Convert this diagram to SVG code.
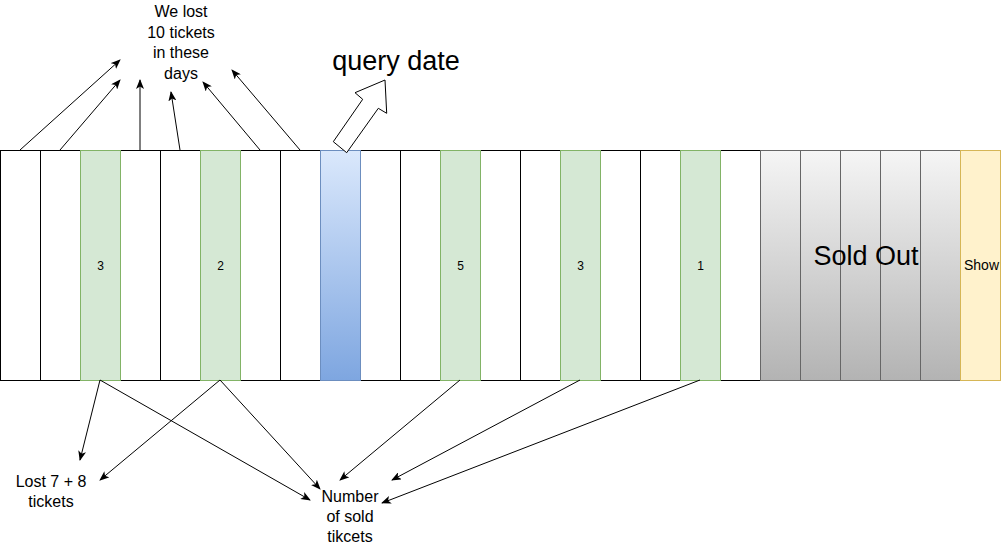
<svg xmlns="http://www.w3.org/2000/svg" width="1001" height="545" viewBox="0 0 1001 545">
<style>
.w{fill:#ffffff;stroke:#000000;stroke-width:1}
.g{fill:#d5e8d4;stroke:#82b366;stroke-width:1}
.b{fill:url(#gb);stroke:#6c8ebf;stroke-width:1}
.s{fill:url(#gs);stroke:#666666;stroke-width:1}
.y{fill:#fff2cc;stroke:#d6b656;stroke-width:1}
text{font-family:"Liberation Sans",Arial,sans-serif;fill:#000000;text-anchor:middle}
.n{font-size:12px}
.l{font-size:16px}
.big{font-size:27px}
.c line{stroke:#000000;stroke-width:1;marker-end:url(#ah)}
</style>
<defs>
<linearGradient id="gb" x1="0" y1="0" x2="0" y2="1"><stop offset="0" stop-color="#dae8fc"/><stop offset="1" stop-color="#7ea6e0"/></linearGradient>
<linearGradient id="gs" x1="0" y1="0" x2="0" y2="1"><stop offset="0" stop-color="#f5f5f5"/><stop offset="1" stop-color="#b3b3b3"/></linearGradient>
<marker id="ah" markerWidth="10" markerHeight="8" refX="9" refY="4" orient="auto" markerUnits="userSpaceOnUse"><path d="M0,0 L10,4 L0,8 L2.5,4 Z" fill="#000000"/></marker>
</defs>
<rect width="1001" height="545" fill="#ffffff"/>
<g id="days-white">
<rect class="w" x="0.5" y="150.5" width="40" height="230"/>
<rect class="w" x="40.5" y="150.5" width="40" height="230"/>
<rect class="w" x="120.5" y="150.5" width="40" height="230"/>
<rect class="w" x="160.5" y="150.5" width="40" height="230"/>
<rect class="w" x="240.5" y="150.5" width="40" height="230"/>
<rect class="w" x="280.5" y="150.5" width="40" height="230"/>
<rect class="w" x="360.5" y="150.5" width="40" height="230"/>
<rect class="w" x="400.5" y="150.5" width="40" height="230"/>
<rect class="w" x="480.5" y="150.5" width="40" height="230"/>
<rect class="w" x="520.5" y="150.5" width="40" height="230"/>
<rect class="w" x="600.5" y="150.5" width="40" height="230"/>
<rect class="w" x="640.5" y="150.5" width="40" height="230"/>
<rect class="w" x="720.5" y="150.5" width="40" height="230"/>
</g>
<g id="day-3a"><rect class="g" x="80.5" y="150.5" width="40" height="230"/><text class="n" x="100.5" y="270">3</text></g>
<g id="day-2"><rect class="g" x="200.5" y="150.5" width="40" height="230"/><text class="n" x="220.5" y="270">2</text></g>
<g id="query-day"><rect class="b" x="320.5" y="150.5" width="40" height="230"/></g>
<g id="day-5"><rect class="g" x="440.5" y="150.5" width="40" height="230"/><text class="n" x="460.5" y="270">5</text></g>
<g id="day-3b"><rect class="g" x="560.5" y="150.5" width="40" height="230"/><text class="n" x="580.5" y="270">3</text></g>
<g id="day-1"><rect class="g" x="680.5" y="150.5" width="40" height="230"/><text class="n" x="700.5" y="270">1</text></g>
<g id="sold-out">
<rect class="s" x="760.5" y="150.5" width="40" height="230"/>
<rect class="s" x="800.5" y="150.5" width="40" height="230"/>
<rect class="s" x="840.5" y="150.5" width="40" height="230"/>
<rect class="s" x="880.5" y="150.5" width="40" height="230"/>
<rect class="s" x="920.5" y="150.5" width="40" height="230"/>
<text class="big" x="866" y="265">Sold Out</text>
</g>
<g id="show"><rect class="y" x="960.5" y="150.5" width="40" height="230"/><text x="981.5" y="270" style="font-size:14px">Show</text></g>
<g id="query-arrow"><polygon points="333.3,141.7 362.7,99.3 355,92.7 385,80 386.7,113.3 378.3,108.3 346.7,152.7" fill="#ffffff" stroke="#000000" stroke-width="1"/></g>
<g id="label-query"><text class="big" x="396" y="70">query date</text></g>
<g id="label-lost10"><text class="l" x="181" y="17">We lost</text><text class="l" x="181" y="38">10 tickets</text><text class="l" x="181" y="58">in these</text><text class="l" x="181" y="79">days</text></g>
<g id="label-lost78"><text class="l" x="51" y="487">Lost 7 + 8</text><text class="l" x="51" y="507">tickets</text></g>
<g id="label-sold"><text class="l" x="350" y="502">Number</text><text class="l" x="350" y="522">of sold</text><text class="l" x="350" y="542">tikcets</text></g>
<g id="connectors" class="c">
<line x1="20" y1="150" x2="120" y2="60"/>
<line x1="60" y1="150" x2="120" y2="80"/>
<line x1="140" y1="150" x2="140" y2="80"/>
<line x1="180" y1="150" x2="171" y2="92"/>
<line x1="260" y1="150" x2="203" y2="82"/>
<line x1="300" y1="150" x2="232" y2="70"/>
<line x1="100" y1="380" x2="80" y2="460"/>
<line x1="100" y1="380" x2="310" y2="500"/>
<line x1="220" y1="380" x2="100" y2="480"/>
<line x1="220" y1="380" x2="320" y2="489"/>
<line x1="460" y1="380" x2="340" y2="480"/>
<line x1="580" y1="380" x2="392" y2="480"/>
<line x1="700" y1="380" x2="382" y2="503"/>
</g>
</svg>
